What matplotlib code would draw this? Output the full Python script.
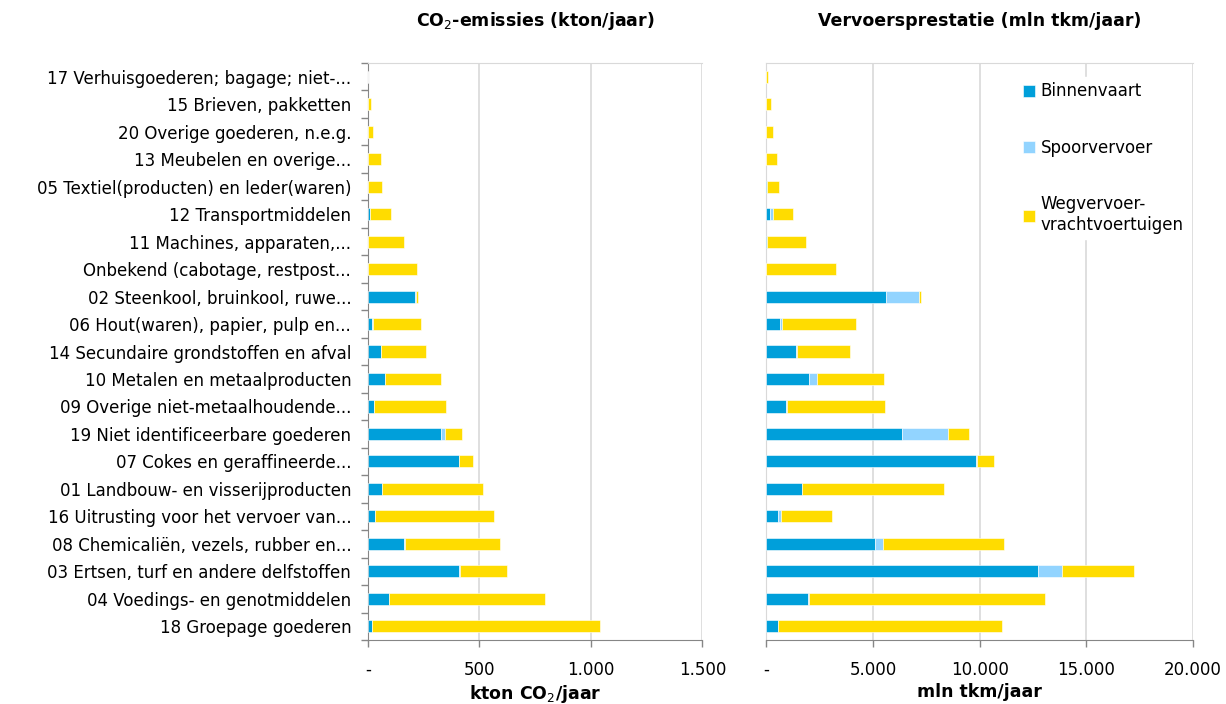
import matplotlib
matplotlib.use("Agg")
import matplotlib.pyplot as plt
import numpy as np
from matplotlib.ticker import FuncFormatter

plt.rcParams['font.family'] = ['DejaVu Sans']
plt.rcParams['mathtext.fontset'] = 'dejavusans'

# categories, top to bottom
categories = [
    "17 Verhuisgoederen; bagage; niet-...",
    "15 Brieven, pakketten",
    "20 Overige goederen, n.e.g.",
    "13 Meubelen en overige...",
    "05 Textiel(producten) en leder(waren)",
    "12 Transportmiddelen",
    "11 Machines, apparaten,...",
    "Onbekend (cabotage, restpost...",
    "02 Steenkool, bruinkool, ruwe...",
    "06 Hout(waren), papier, pulp en...",
    "14 Secundaire grondstoffen en afval",
    "10 Metalen en metaalproducten",
    "09 Overige niet-metaalhoudende...",
    "19 Niet identificeerbare goederen",
    "07 Cokes en geraffineerde...",
    "01 Landbouw- en visserijproducten",
    "16 Uitrusting voor het vervoer van...",
    "08 Chemicaliën, vezels, rubber en...",
    "03 Ertsen, turf en andere delfstoffen",
    "04 Voedings- en genotmiddelen",
    "18 Groepage goederen",
]

series = ["Binnenvaart", "Spoorvervoer", "Wegvervoer-\nvrachtvoertuigen"]
colors = ["#009FDA", "#92D4FF", "#FFDC00"]

# CO2-emissies (kton/jaar)
co2_binnen = [0, 0, 0, 2, 3, 8, 3, 1, 210, 21, 58, 76, 27, 326, 408, 63, 33, 164, 409, 94, 21]
co2_spoor = [0, 0, 0, 0, 0, 1, 0, 0, 6, 1, 1, 2, 1, 19, 1, 1, 1, 2, 6, 1, 0]
co2_weg = [2, 15, 22, 56, 60, 97, 157, 218, 8, 215, 201, 249, 321, 75, 61, 452, 530, 428, 208, 701, 1019]

# Vervoersprestatie (mln tkm/jaar)
tkm_binnen = [0, 0, 0, 0, 50, 170, 50, 0, 5600, 640, 1390, 2000, 940, 6350, 9810, 1690, 563, 5117, 12737, 1953, 545]
tkm_spoor = [0, 0, 0, 0, 0, 126, 0, 0, 1580, 110, 50, 376, 45, 2150, 65, 0, 123, 376, 1127, 47, 10]
tkm_weg = [60, 200, 310, 500, 527, 954, 1830, 3250, 80, 3440, 2485, 3131, 4569, 1000, 810, 6620, 2380, 5634, 3380, 11066, 10506]

y = np.arange(len(categories))


def dutch(v, pos):
    if v == 0:
        return "-"
    return "{:,.0f}".format(v).replace(",", ".")


def stack(ax, parts):
    left = np.zeros(len(categories))
    for vals, col, name in zip(parts, colors, series):
        ax.barh(y, vals, left=left, height=0.44, color=col, label=name,
                edgecolor="white", linewidth=0.4, zorder=3)
        left = left + np.array(vals)


fig = plt.figure(figsize=(12.26, 7.04), dpi=100)
ax1 = fig.add_axes([0.300, 0.0909, 0.273, 0.8196])
ax2 = fig.add_axes([0.625, 0.0909, 0.348, 0.8196])

stack(ax1, [co2_binnen, co2_spoor, co2_weg])
stack(ax2, [tkm_binnen, tkm_spoor, tkm_weg])

for ax, xmax, step in [(ax1, 1500, 500), (ax2, 20000, 5000)]:
    ax.set_xlim(0, xmax)
    ax.set_ylim(len(categories) - 0.5, -0.5)
    ax.set_xticks(np.arange(0, xmax + 1, step))
    ax.xaxis.set_major_formatter(FuncFormatter(dutch))
    ax.grid(axis="x", color="#D9D9D9", linewidth=1.2, zorder=0)
    ax.set_axisbelow(True)
    ax.spines["right"].set_visible(False)
    ax.spines["top"].set_color("#D9D9D9")
    ax.spines["bottom"].set_color("#868686")
    ax.spines["left"].set_color("#868686")
    ax.tick_params(axis="x", colors="#868686", labelcolor="black", labelsize=12,
                   length=5, width=1, pad=10)

# left y axis: category labels, tick marks between categories
ax1.set_yticks(y)
ax1.set_yticklabels(categories, fontsize=12)
ax1.tick_params(axis="y", length=0, pad=12)
ax1.set_yticks(np.arange(-0.5, len(categories)), minor=True)
ax1.tick_params(axis="y", which="minor", length=5, color="#868686", width=1)

ax2.set_yticks([])
ax2.spines["left"].set_color("#D9D9D9")

ax1.set_title("CO$_2$-emissies (kton/jaar)", fontsize=12.5, fontweight="bold", pad=27)
ax2.set_title("Vervoersprestatie (mln tkm/jaar)", fontsize=12.5, fontweight="bold", pad=27)
ax1.set_xlabel("kton CO$_2$/jaar", fontsize=12.5, fontweight="bold", labelpad=3)
ax2.set_xlabel("mln tkm/jaar", fontsize=12.5, fontweight="bold", labelpad=3)

leg = ax2.legend(loc="upper right", bbox_to_anchor=(0.99, 0.975), fontsize=12,
                 frameon=True, facecolor="white", edgecolor="white", framealpha=1,
                 handlelength=0.72, handleheight=0.72, handletextpad=0.35,
                 labelspacing=2.3, borderpad=0.3, borderaxespad=0)
leg.set_zorder(5)

fig.savefig("out.png", dpi=100)
